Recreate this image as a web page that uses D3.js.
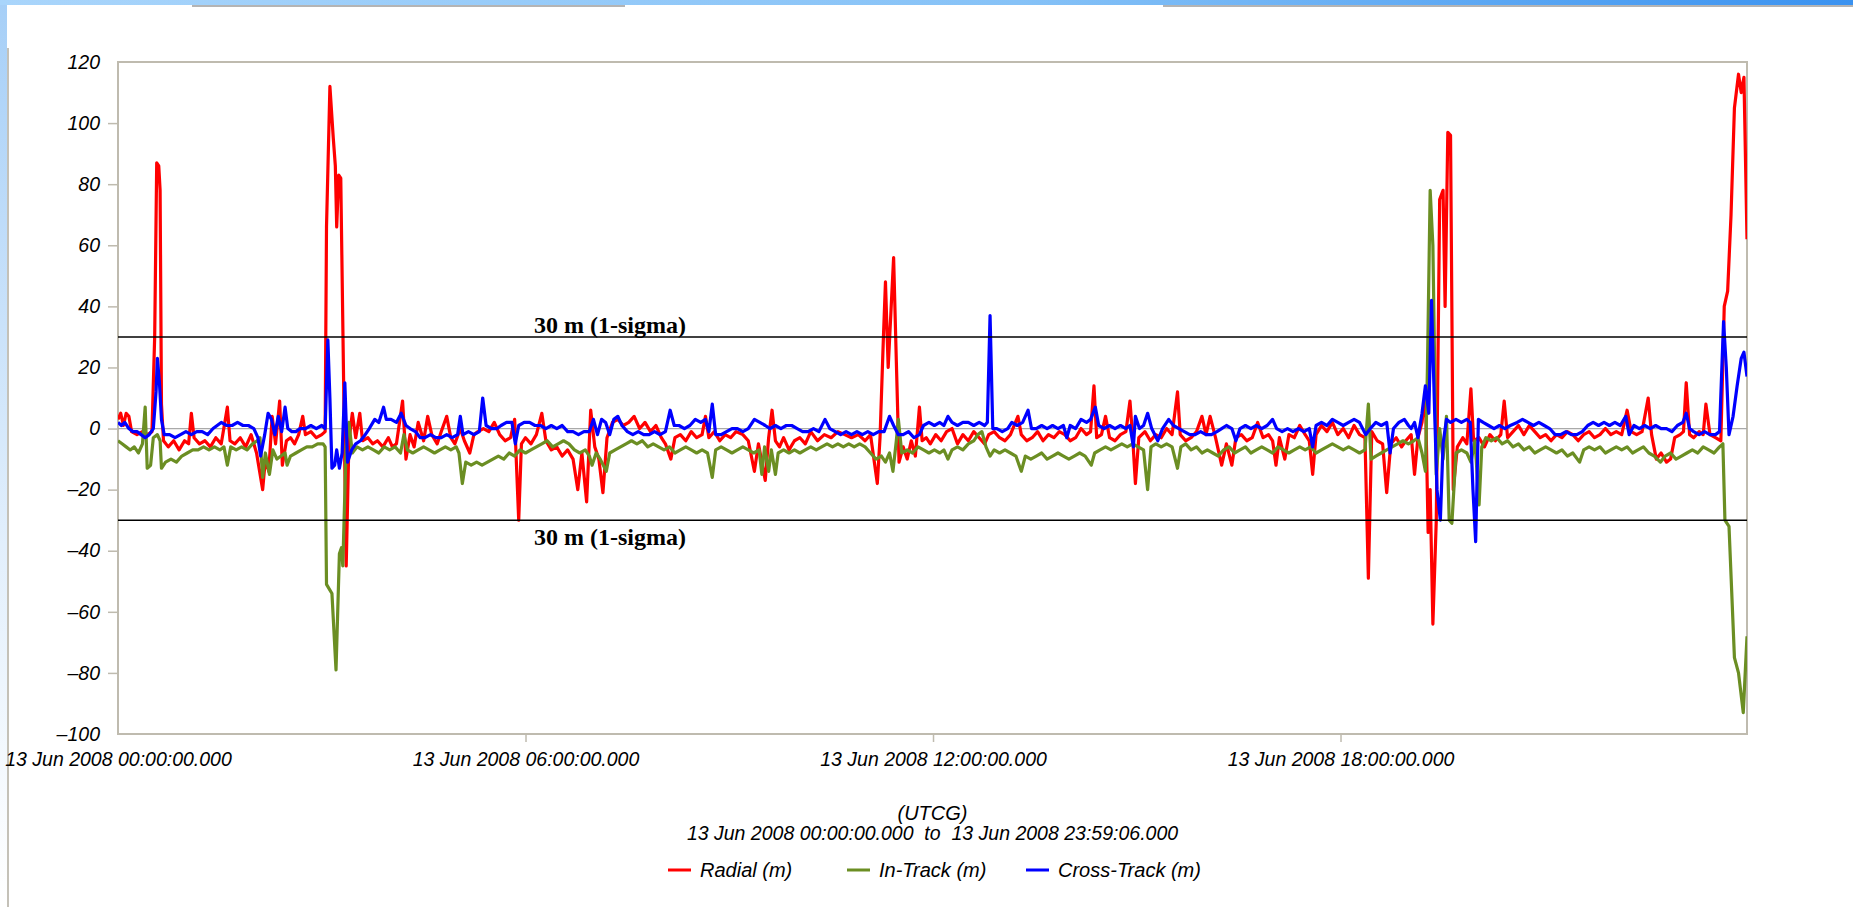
<!DOCTYPE html>
<html lang="en">
<head>
<meta charset="UTF-8">
<title>Radial / In-Track / Cross-Track</title>
<script src="https://d3js.org/d3.v7.min.js"></script>
<style>
	body { margin: 0; background: #fff; overflow: hidden; }
	svg { display: block; }
	.lbl { font-family: "Liberation Sans", Arial, sans-serif; font-style: italic; fill: #000; }
	.sigma { font-family: "Liberation Serif", "Times New Roman", serif; font-weight: bold; font-size: 24px; fill: #000; }
</style>
</head>
<body>
<script>
// ---- data: [hour of day, metres] ----
var radial = [
[0.00,3],[0.04,5],[0.08,1],[0.12,5],[0.16,4],[0.20,-1],[0.28,-2],[0.36,-1],[0.44,-2],[0.50,-1],
[0.54,30],[0.57,87],[0.60,86],[0.62,78],[0.64,8],[0.67,-4],[0.74,-6],[0.82,-4],[0.90,-7],[0.98,-4],
[1.04,-5],[1.08,5],[1.12,-3],[1.20,-5],[1.28,-4],[1.36,-6],[1.44,-3],[1.52,-5],[1.61,7],[1.65,-4],
[1.72,-5],[1.80,-3],[1.88,-6],[1.96,-2],[2.04,-8],[2.13,-20],[2.17,-10],[2.22,-14],[2.27,4],[2.32,-5],
[2.38,9],[2.42,-12],[2.48,-4],[2.54,-3],[2.60,-5],[2.66,-2],[2.72,4],[2.76,-2],[2.84,-1],[2.92,-3],
[3.00,-2],[3.05,-1],[3.07,66],[3.12,112],[3.17,95],[3.20,86],[3.22,66],[3.25,83],[3.28,82],[3.36,-45],
[3.40,-4],[3.45,5],[3.50,-3],[3.56,5],[3.60,-4],[3.68,-3],[3.75,-5],[3.82,-4],[3.90,-6],[3.98,-3],
[4.04,-6],[4.10,-5],[4.19,9],[4.24,-10],[4.30,-2],[4.36,-6],[4.42,2],[4.50,-4],[4.56,4],[4.62,-2],
[4.70,-5],[4.76,-1],[4.84,4],[4.90,-3],[4.96,-5],[5.04,0],[5.10,-4],[5.18,-8],[5.24,-2],[5.30,-1],
[5.38,0],[5.46,-1],[5.54,2],[5.62,-2],[5.70,-4],[5.78,-3],[5.84,3],[5.90,-30],[5.94,-5],[6.00,-3],
[6.08,-5],[6.16,-2],[6.24,5],[6.30,-4],[6.38,-7],[6.46,-6],[6.54,-9],[6.62,-7],[6.70,-10],[6.77,-20],
[6.83,-8],[6.90,-24],[6.96,6],[7.02,-6],[7.08,-10],[7.14,-21],[7.20,-3],[7.28,2],[7.36,3],[7.44,1],
[7.52,2],[7.60,4],[7.68,0],[7.76,2],[7.84,-1],[7.92,1],[8.00,-3],[8.06,-5],[8.14,-10],[8.20,-3],
[8.28,-2],[8.36,-4],[8.44,-1],[8.52,-3],[8.60,-2],[8.65,4],[8.70,-3],[8.78,-1],[8.86,-4],[8.94,-2],
[9.02,-3],[9.10,-1],[9.20,-2],[9.28,-4],[9.37,-14],[9.43,-5],[9.53,-17],[9.58,-3],[9.63,6],[9.68,-4],
[9.74,-6],[9.80,-3],[9.88,-7],[9.96,-4],[10.04,-3],[10.12,-5],[10.20,-1],[10.30,-4],[10.40,-2],[10.50,-3],
[10.60,-1],[10.70,-2],[10.80,-3],[10.90,-2],[11.00,-4],[11.08,-2],[11.18,-18],[11.22,-3],[11.27,30],[11.30,48],
[11.34,20],[11.38,38],[11.42,56],[11.46,22],[11.50,-11],[11.56,-6],[11.62,-10],[11.68,-4],[11.74,-9],[11.80,7],
[11.84,-4],[11.90,-3],[11.96,-5],[12.04,-2],[12.12,-4],[12.20,-1],[12.28,0],[12.36,-5],[12.44,-2],[12.52,-4],
[12.60,-1],[12.68,-3],[12.76,-5],[12.82,-2],[12.90,-1],[12.98,-3],[13.06,-4],[13.14,-2],[13.25,4],[13.30,-2],
[13.38,-4],[13.46,-3],[13.54,-1],[13.62,-4],[13.70,-2],[13.78,-3],[13.86,-1],[13.94,-2],[14.02,-4],[14.10,-3],
[14.18,0],[14.26,-2],[14.32,-1],[14.37,14],[14.41,-3],[14.48,-2],[14.54,4],[14.60,-3],[14.68,-4],[14.76,-2],
[14.84,-1],[14.90,9],[14.94,-3],[14.98,-18],[15.03,-3],[15.12,-1],[15.20,-4],[15.28,-2],[15.36,-3],[15.44,0],
[15.52,-2],[15.60,12],[15.64,-2],[15.72,-4],[15.80,-3],[15.88,-1],[15.96,4],
[16.02,-2],[16.08,4],[16.16,-3],[16.25,-12],[16.32,-5],[16.40,-12],[16.46,-3],[16.54,-2],[16.62,-4],[16.70,-3],
[16.78,2],[16.86,-3],[16.94,-2],[17.00,-4],[17.05,-12],[17.10,-3],[17.18,-10],[17.24,-2],[17.32,-3],[17.40,1],
[17.48,-2],[17.54,-4],[17.59,-15],[17.64,-2],[17.72,1],[17.80,-1],[17.88,2],[17.96,-2],[18.04,0],[18.12,-3],
[18.20,1],[18.28,-2],[18.36,-3],[18.41,-49],[18.46,-1],[18.54,-4],[18.62,-5],[18.68,-21],[18.74,-5],[18.82,-3],
[18.90,-6],[18.96,-4],[19.04,-2],[19.09,-15],[19.14,-3],[19.20,2],[19.25,12],[19.29,-34],[19.32,-20],[19.36,-64],
[19.41,-30],[19.46,75],[19.51,78],[19.54,40],[19.58,97],[19.62,96],[19.66,-20],[19.72,-6],[19.80,-3],[19.86,-5],
[19.92,13],[19.96,-4],[20.04,-3],[20.12,-6],[20.20,-2],[20.28,-4],[20.36,-2],[20.41,9],[20.46,-3],[20.54,-1],
[20.62,1],[20.70,-2],[20.78,1],[20.86,-1],[20.94,-3],[21.02,-2],[21.10,-4],[21.18,-2],[21.26,-3],[21.34,-1],
[21.42,-2],[21.50,-4],[21.58,-2],[21.66,-1],[21.74,-3],[21.82,-2],[21.90,0],[21.98,-2],[22.06,-1],[22.14,-2],
[22.22,6],[22.28,-1],[22.36,-2],[22.44,-1],[22.53,10],[22.58,-2],[22.65,-10],[22.72,-8],[22.80,-11],[22.86,-10],
[22.92,-3],[23.00,-2],[23.05,-1],[23.09,15],[23.14,-2],[23.20,-3],[23.28,-1],[23.34,-2],[23.38,8],[23.44,-2],
[23.52,-3],[23.60,-4],[23.65,40],[23.70,45],[23.75,70],[23.80,105],[23.86,116],[23.90,110],[23.94,115],[23.985,62]
];

var inTrack = [
[0.00,-4],[0.06,-5],[0.12,-6],[0.18,-7],[0.24,-6],[0.30,-8],[0.36,-5],[0.40,7],[0.43,-13],[0.48,-12],
[0.52,-3],[0.58,-2],[0.62,-4],[0.64,-13],[0.70,-11],[0.78,-10],[0.86,-11],[0.94,-9],[1.02,-8],[1.10,-7],
[1.18,-7],[1.26,-6],[1.34,-7],[1.42,-6],[1.50,-7],[1.56,-6],[1.61,-12],[1.66,-6],[1.74,-7],[1.82,-6],
[1.90,-7],[1.98,-5],[2.05,-4],[2.09,-3],[2.13,-16],[2.17,-8],[2.23,-15],[2.28,-7],[2.34,-10],[2.40,-9],
[2.46,-8],[2.49,-12],[2.54,-9],[2.62,-8],[2.70,-7],[2.78,-6],[2.86,-6],[2.94,-5],[3.02,-5],[3.05,-6],
[3.07,-51],[3.15,-54],[3.21,-79],[3.26,-41],[3.29,-39],[3.31,-45],[3.36,-5],[3.40,2],[3.45,-8],[3.52,-6],
[3.60,-7],[3.68,-6],[3.76,-7],[3.84,-8],[3.92,-6],[4.00,-7],[4.08,-6],[4.16,-8],[4.21,-2],[4.26,-7],
[4.34,-8],[4.42,-7],[4.50,-6],[4.58,-7],[4.66,-8],[4.74,-7],[4.82,-6],[4.90,-7],[4.98,-6],[5.02,-8],
[5.07,-18],[5.12,-11],[5.20,-12],[5.28,-11],[5.36,-12],[5.44,-11],[5.52,-10],[5.60,-9],[5.68,-10],[5.76,-8],
[5.84,-9],[5.92,-7],[6.00,-8],[6.08,-7],[6.16,-6],[6.24,-5],[6.32,-4],[6.40,-6],[6.48,-5],[6.56,-4],
[6.64,-5],[6.72,-7],[6.80,-8],[6.88,-7],[6.94,-9],[6.98,-12],[7.04,-8],[7.10,-10],[7.19,-14],[7.24,-8],
[7.32,-7],[7.40,-6],[7.48,-5],[7.56,-4],[7.64,-5],[7.72,-4],[7.80,-6],[7.88,-5],[7.96,-6],
[8.04,-7],[8.12,-6],[8.20,-8],[8.28,-7],[8.36,-6],[8.44,-7],[8.52,-8],[8.60,-7],[8.68,-8],[8.75,-16],
[8.80,-7],[8.88,-6],[8.96,-7],[9.04,-8],[9.12,-7],[9.20,-6],[9.28,-7],[9.36,-8],[9.44,-7],[9.48,-15],
[9.52,-6],[9.58,-14],[9.62,-7],[9.68,-15],[9.72,-8],[9.80,-7],[9.88,-8],[9.96,-7],[10.04,-8],[10.12,-7],
[10.20,-6],[10.28,-7],[10.36,-6],[10.44,-5],[10.52,-6],[10.60,-5],[10.68,-6],[10.76,-5],[10.84,-6],[10.92,-5],
[11.00,-6],[11.08,-8],[11.16,-10],[11.24,-9],[11.30,-11],[11.36,-8],[11.41,-14],[11.46,-4],[11.49,3],[11.54,-8],
[11.62,-7],[11.70,-8],[11.78,-6],[11.86,-7],[11.94,-8],[12.02,-7],[12.10,-8],[12.16,-7],[12.22,-10],[12.28,-7],
[12.36,-6],[12.44,-7],[12.52,-5],[12.60,-4],[12.66,-2],[12.72,-1],[12.78,-6],[12.84,-9],[12.90,-7],[12.98,-8],
[13.06,-7],[13.14,-8],[13.22,-9],[13.30,-14],[13.36,-9],[13.44,-10],[13.52,-9],[13.60,-8],[13.68,-10],[13.76,-9],
[13.84,-8],[13.92,-9],[14.00,-10],[14.08,-9],[14.16,-8],[14.24,-9],[14.33,-12],[14.38,-8],[14.46,-7],[14.54,-6],
[14.62,-7],[14.70,-6],[14.78,-5],[14.86,-6],[14.94,-5],[15.02,-6],[15.10,-7],[15.16,-20],[15.21,-6],[15.28,-5],
[15.36,-6],[15.44,-5],[15.52,-6],[15.60,-13],[15.65,-6],[15.72,-5],[15.80,-7],[15.88,-6],[15.96,-8],
[16.04,-7],[16.12,-8],[16.20,-9],[16.28,-7],[16.36,-6],[16.44,-8],[16.52,-7],[16.60,-6],[16.68,-8],[16.76,-7],
[16.84,-6],[16.92,-7],[17.00,-8],[17.08,-6],[17.16,-7],[17.24,-8],[17.32,-7],[17.40,-6],[17.48,-7],[17.56,-6],
[17.64,-8],[17.72,-7],[17.80,-6],[17.88,-5],[17.96,-6],[18.04,-7],[18.12,-6],[18.20,-7],[18.28,-8],[18.36,-7],
[18.41,8],[18.45,-10],[18.52,-9],[18.60,-8],[18.68,-7],[18.76,-6],[18.84,-5],[18.92,-4],[19.00,-5],[19.08,-4],
[19.14,-3],[19.20,-8],[19.25,-14],[19.28,20],[19.32,78],[19.36,60],[19.41,-15],[19.46,0],[19.51,-10],[19.56,4],
[19.60,-30],[19.64,-31],[19.70,-8],[19.78,-7],[19.86,-8],[19.92,-11],[19.98,-4],[20.04,-25],[20.08,-6],[20.14,-3],
[20.22,-4],[20.30,-3],[20.38,-5],[20.46,-4],[20.54,-6],[20.62,-5],[20.70,-7],[20.78,-6],[20.86,-8],[20.94,-7],[21.02,-6],
[21.10,-7],[21.18,-8],[21.26,-7],[21.34,-9],[21.42,-8],[21.52,-11],[21.58,-7],[21.66,-6],[21.74,-7],[21.82,-6],
[21.90,-8],[21.98,-7],[22.06,-6],[22.14,-7],[22.22,-6],[22.30,-8],[22.38,-7],[22.46,-6],[22.54,-8],[22.62,-9],
[22.71,-11],[22.78,-9],[22.86,-8],[22.94,-10],[23.02,-9],[23.10,-8],[23.18,-7],[23.26,-8],[23.34,-6],[23.42,-7],
[23.50,-8],[23.58,-6],[23.63,-5],[23.66,-30],[23.72,-32],[23.80,-75],[23.86,-80],[23.93,-93],[23.985,-68]
];

var crossTrack = [
[0.00,2],[0.05,1],[0.10,2],[0.16,0],[0.22,-1],[0.28,-1],[0.34,-2],[0.40,-3],[0.46,-2],[0.52,0],
[0.56,12],[0.58,23],[0.61,15],[0.64,3],[0.68,-2],[0.76,-2],[0.84,-3],[0.92,-2],[1.00,-1],[1.08,-2],
[1.16,-1],[1.24,-1],[1.32,-2],[1.40,0],[1.46,1],[1.52,2],[1.60,1],[1.68,1],[1.76,2],[1.84,1],
[1.92,1],[2.00,0],[2.06,-3],[2.10,-9],[2.16,-2],[2.21,5],[2.26,3],[2.31,-2],[2.36,4],[2.41,-1],
[2.46,7],[2.50,0],[2.56,-1],[2.62,-1],[2.68,0],[2.76,0],[2.84,1],[2.92,0],[3.00,1],[3.05,0],
[3.09,29],[3.12,10],[3.15,-13],[3.19,-12],[3.22,-7],[3.26,-13],[3.30,-8],[3.34,15],[3.38,-11],[3.44,-7],
[3.50,-5],[3.57,-4],[3.64,-2],[3.70,0],[3.78,3],[3.84,2],[3.91,7],[3.95,3],[4.02,3],[4.10,2],
[4.17,5],[4.24,1],[4.30,0],[4.38,-1],[4.45,-3],[4.52,-3],[4.60,-2],[4.68,-3],[4.76,-3],[4.84,-2],
[4.92,-3],[5.00,-2],[5.04,4],[5.08,-2],[5.16,-1],[5.24,-2],[5.32,-1],[5.37,10],[5.42,1],[5.50,0],
[5.58,0],[5.64,1],[5.72,2],[5.80,2],[5.85,-5],[5.90,1],[5.98,2],[6.06,2],[6.14,1],[6.22,1],
[6.30,0],[6.38,1],[6.46,0],[6.54,1],[6.62,-1],[6.70,-1],[6.78,-2],[6.86,-1],[6.94,-1],[7.00,3],
[7.06,-2],[7.12,3],[7.18,2],[7.24,-2],[7.30,3],[7.36,4],[7.42,1],[7.50,-1],[7.58,-2],[7.66,-1],
[7.74,-2],[7.82,-2],[7.90,-1],[7.98,-2],
[8.06,-1],[8.13,6],[8.19,1],[8.26,1],[8.34,0],[8.42,1],[8.50,3],[8.58,2],[8.65,3],[8.70,-1],
[8.75,8],[8.80,-2],[8.88,-2],[8.96,-1],[9.04,0],[9.12,0],[9.20,-1],[9.28,0],[9.37,3],[9.45,2],
[9.53,1],[9.60,0],[9.68,1],[9.76,0],[9.84,1],[9.92,1],[10.00,0],[10.08,-1],[10.16,-1],[10.24,0],
[10.32,-1],[10.41,3],[10.48,0],[10.56,-1],[10.64,-2],[10.72,-1],[10.80,-2],[10.88,-1],[10.96,-2],[11.04,-1],
[11.12,-2],[11.20,-1],[11.28,-1],[11.36,4],[11.42,1],[11.49,-2],[11.56,-2],[11.64,-1],[11.72,-3],[11.80,-2],
[11.86,1],[11.94,2],[12.02,1],[12.10,2],[12.16,1],[12.22,4],[12.28,2],[12.36,1],[12.44,2],[12.52,2],
[12.60,1],[12.68,2],[12.76,1],[12.80,2],[12.84,37],[12.88,0],[12.94,0],[13.02,-1],[13.10,0],[13.16,2],
[13.24,1],[13.32,2],[13.40,6],[13.45,0],[13.52,0],[13.60,1],[13.68,0],[13.76,1],[13.84,0],[13.92,1],
[13.97,-3],[14.02,1],[14.10,0],[14.18,3],[14.26,2],[14.32,3],[14.39,7],[14.44,1],[14.52,0],[14.60,1],
[14.68,0],[14.76,1],[14.84,0],[14.90,1],[14.95,-6],[14.98,4],[15.04,0],[15.10,1],[15.16,5],[15.22,0],
[15.31,-4],[15.38,0],[15.47,3],[15.54,1],[15.62,0],[15.70,-1],[15.78,-2],[15.86,-2],[15.94,-1],
[16.02,-2],[16.10,-2],[16.18,-1],[16.25,0],[16.32,1],[16.40,0],[16.46,-4],[16.52,0],[16.60,1],[16.68,0],
[16.76,1],[16.84,0],[16.92,1],[17.00,3],[17.06,0],[17.14,-1],[17.22,0],[17.30,-1],[17.38,0],[17.46,-1],
[17.54,0],[17.59,-6],[17.64,1],[17.72,2],[17.80,1],[17.88,3],[17.96,2],[18.04,1],[18.12,2],[18.20,3],
[18.28,2],[18.37,-2],[18.44,0],[18.52,2],[18.60,1],[18.68,2],[18.73,-8],[18.78,0],[18.86,2],[18.94,3],
[19.00,1],[19.04,0],[19.09,2],[19.14,-3],[19.20,5],[19.25,14],[19.30,5],[19.34,42],[19.38,10],[19.42,-20],
[19.47,-30],[19.51,-5],[19.56,3],[19.62,2],[19.70,3],[19.78,2],[19.86,3],[19.91,2],[19.95,-20],[19.99,-37],
[20.03,3],[20.10,2],[20.18,1],[20.26,0],[20.34,1],[20.42,0],[20.50,1],[20.60,2],[20.68,3],
[20.76,2],[20.84,1],[20.92,2],[21.00,1],[21.08,0],[21.16,-2],[21.24,-2],[21.32,-1],[21.40,-2],[21.48,-2],
[21.56,-1],[21.64,1],[21.72,2],[21.80,1],[21.88,2],[21.96,1],[22.04,2],[22.12,1],[22.20,4],[22.25,-2],
[22.32,1],[22.40,0],[22.48,1],[22.56,0],[22.64,1],[22.72,0],[22.80,0],[22.88,-1],[22.96,1],[23.04,2],
[23.09,5],[23.14,0],[23.20,-1],[23.28,-2],[23.36,-1],[23.44,-2],[23.52,-2],[23.58,-1],[23.64,35],[23.68,20],
[23.72,-2],[23.78,4],[23.84,14],[23.90,23],[23.94,25],[23.985,17]
];

var seriesNames = ['Radial (m)', 'In-Track (m)', 'Cross-Track (m)'];
var seriesColors = ['#ff0000', '#6b8e23', '#0000ff'];
var yTicks = [-100, -80, -60, -40, -20, 0, 20, 40, 60, 80, 100, 120];
var xTicks = [0, 6, 12, 18];
var sigmaLevels = [30, -30];
var sigmaLabel = '30 m (1-sigma)';
var xTitle = '(UTCG)';
var xRange = '13 Jun 2008 00:00:00.000  to  13 Jun 2008 23:59:06.000';

window.onload = function () {
	var W = 1853, H = 907;
	var left = 118, right = 1747, top = 62, bottom = 734;

	var svg = d3.select('body').append('svg')
		.attr('width', W).attr('height', H);

	// page frame bits (slide border)
	var defs = svg.append('defs');
	var gTop = defs.append('linearGradient').attr('id', 'gTop');
	gTop.append('stop').attr('offset', '0%').attr('stop-color', '#a9d5fb');
	gTop.append('stop').attr('offset', '55%').attr('stop-color', '#86c2f7');
	gTop.append('stop').attr('offset', '100%').attr('stop-color', '#3a92f0');
	var gLeft = defs.append('linearGradient').attr('id', 'gLeft')
		.attr('x1', 0).attr('y1', 0).attr('x2', 0).attr('y2', 1);
	gLeft.append('stop').attr('offset', '0%').attr('stop-color', '#a6cff7');
	gLeft.append('stop').attr('offset', '60%').attr('stop-color', '#e2effc');
	gLeft.append('stop').attr('offset', '100%').attr('stop-color', '#ffffff');

	svg.append('rect').attr('x', 0).attr('y', 0).attr('width', 7).attr('height', H).attr('fill', 'url(#gLeft)');
	svg.append('rect').attr('x', 0).attr('y', 0).attr('width', W).attr('height', 5).attr('fill', 'url(#gTop)');
	svg.append('line').attr('x1', 192).attr('x2', 625).attr('y1', 6).attr('y2', 6)
		.attr('stroke', '#b4b4b4').attr('stroke-width', 2);
	svg.append('line').attr('x1', 1163).attr('x2', W).attr('y1', 6).attr('y2', 6)
		.attr('stroke', '#b4b4b4').attr('stroke-width', 2);
	svg.append('line').attr('x1', 8).attr('x2', 8).attr('y1', 48).attr('y2', H)
		.attr('stroke', '#b0aca0').attr('stroke-width', 1.5);

	//----scales----//
	var x = d3.scaleLinear().domain([0, 23.985]).range([left, right]);
	var y = d3.scaleLinear().domain([-100, 120]).range([bottom, top]);

	svg.append('rect')
		.attr('x', left).attr('y', top)
		.attr('width', right - left).attr('height', bottom - top)
		.attr('fill', '#fff').attr('stroke', '#bfbbaf').attr('stroke-width', 2);

	// zero line
	svg.append('line')
		.attr('x1', left).attr('x2', right)
		.attr('y1', y(0)).attr('y2', y(0))
		.attr('stroke', '#a9a9a9').attr('stroke-width', 1.2);

	//----axes----//
	var yAxis = svg.append('g')
		.attr('transform', 'translate(' + left + ',0)')
		.call(d3.axisLeft(y).tickValues(yTicks).tickSize(10).tickPadding(8)
			.tickFormat(function (d) { return d < 0 ? '\u2013' + Math.abs(d) : d; }));
	var xAxis = svg.append('g')
		.attr('transform', 'translate(0,' + bottom + ')')
		.call(d3.axisBottom(x).tickValues(xTicks).tickSize(8).tickPadding(10)
			.tickFormat(function (h) { return '13 Jun 2008 ' + d3.format('02')(h) + ':00:00.000'; }));

	[yAxis, xAxis].forEach(function (ax) {
		ax.select('.domain').remove();
		ax.attr('font-size', null).attr('font-family', null);
		ax.selectAll('.tick line').attr('stroke', '#bfbbaf').attr('stroke-width', 1.5);
		ax.selectAll('.tick text').attr('class', 'lbl').style('font-size', '19.5px');
	});
	yAxis.selectAll('.tick line').filter(function (d) { return d === 120 || d === -100; }).remove();
	xAxis.selectAll('.tick line').filter(function (d) { return d === 0; }).remove();

	//----lines----//
	svg.append('clipPath').attr('id', 'plotClip')
		.append('rect').attr('x', left).attr('y', top)
		.attr('width', right - left).attr('height', bottom - top);

	var line = d3.line()
		.x(function (d) { return x(d[0]); })
		.y(function (d) { return y(d[1]); });

	var plot = svg.append('g').attr('clip-path', 'url(#plotClip)');
	[radial, inTrack, crossTrack].forEach(function (s, i) {
		plot.append('path')
			.datum(s)
			.attr('d', line)
			.attr('fill', 'none')
			.attr('stroke', seriesColors[i])
			.attr('stroke-width', 3.2)
			.attr('stroke-linejoin', 'round');
	});

	// 1-sigma limits
	sigmaLevels.forEach(function (v) {
		svg.append('line')
			.attr('x1', left).attr('x2', right)
			.attr('y1', y(v)).attr('y2', y(v))
			.attr('stroke', '#000').attr('stroke-width', 1.5);
		svg.append('text')
			.attr('class', 'sigma')
			.attr('x', 534)
			.attr('y', v > 0 ? y(v) - 4 : y(v) + 25)
			.text(sigmaLabel);
	});

	//----titles & legend----//
	var cx = (left + right) / 2;
	svg.append('text').attr('class', 'lbl')
		.attr('x', cx).attr('y', 820).attr('text-anchor', 'middle')
		.style('font-size', '20px').text(xTitle);
	svg.append('text').attr('class', 'lbl')
		.attr('x', cx).attr('y', 840).attr('text-anchor', 'middle')
		.style('font-size', '19.5px').style('white-space', 'pre').text(xRange);

	var legend = svg.append('g').attr('transform', 'translate(668,870)');
	seriesNames.forEach(function (name, i) {
		var g = legend.append('g').attr('transform', 'translate(' + (i * 179) + ',0)');
		g.append('line').attr('x1', 0).attr('x2', 23).attr('y1', 0).attr('y2', 0)
			.attr('stroke', seriesColors[i]).attr('stroke-width', 3);
		g.append('text').attr('class', 'lbl')
			.attr('x', 32).attr('y', 7)
			.style('font-size', '20px').text(name);
	});
};
</script>
</body>
</html>
